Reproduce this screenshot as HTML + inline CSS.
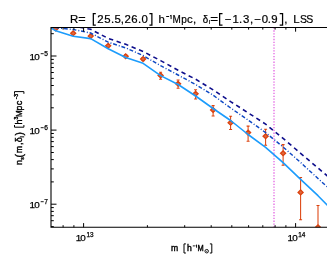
<!DOCTYPE html>
<html><head><meta charset="utf-8"><title>plot</title>
<style>
html,body{margin:0;padding:0;background:#fff;}
body{width:327px;height:256px;overflow:hidden;}
svg{display:block;will-change:transform;}
text{font-family:"Liberation Sans",sans-serif;fill:#000;}
</style></head><body>
<svg width="327" height="256" viewBox="0 0 327 256">

<defs><clipPath id="c"><rect x="51.0" y="27.5" width="281.0" height="199.8"/></clipPath></defs>

<g clip-path="url(#c)" fill="none">
<line x1="274.0" y1="27.5" x2="274.0" y2="227.3" stroke="#e678e6" stroke-width="1.5" stroke-dasharray="1.3 1.54"/>
<path d="M53.2,28.5L55.7,26.1L58.2,28.5L55.7,30.9Z" stroke="#dc420e" stroke-width="1.3" fill="#e0683e"/>
<path d="M70.7,33.2L73.2,30.8L75.7,33.2L73.2,35.6Z" stroke="#dc420e" stroke-width="1.3" fill="#e0683e"/>
<path d="M88.2,36.1L90.7,33.7L93.2,36.1L90.7,38.5Z" stroke="#dc420e" stroke-width="1.3" fill="#e0683e"/>
<path d="M105.7,45.8L108.2,43.4L110.7,45.8L108.2,48.2Z" stroke="#dc420e" stroke-width="1.3" fill="#e0683e"/>
<path d="M125.7,54.8V57.6M124.2,54.8h3M124.2,57.6h3" stroke="#dc420e" stroke-width="1.05"/>
<path d="M123.2,56.2L125.7,53.8L128.2,56.2L125.7,58.6Z" stroke="#dc420e" stroke-width="1.3" fill="#e0683e"/>
<path d="M143.1,57.4V60.6M141.6,57.4h3M141.6,60.6h3" stroke="#dc420e" stroke-width="1.05"/>
<path d="M140.6,59.0L143.1,56.6L145.6,59.0L143.1,61.4Z" stroke="#dc420e" stroke-width="1.3" fill="#e0683e"/>
<path d="M160.6,72.2V79.3M159.1,72.2h3M159.1,79.3h3" stroke="#dc420e" stroke-width="1.05"/>
<path d="M158.1,75.4L160.6,73.0L163.1,75.4L160.6,77.8Z" stroke="#dc420e" stroke-width="1.3" fill="#e0683e"/>
<path d="M178.1,80.0V88.3M176.6,80.0h3M176.6,88.3h3" stroke="#dc420e" stroke-width="1.05"/>
<path d="M175.6,83.8L178.1,81.4L180.6,83.8L178.1,86.2Z" stroke="#dc420e" stroke-width="1.3" fill="#e0683e"/>
<path d="M195.6,89.8V99.0M194.1,89.8h3M194.1,99.0h3" stroke="#dc420e" stroke-width="1.05"/>
<path d="M193.1,93.8L195.6,91.4L198.1,93.8L195.6,96.2Z" stroke="#dc420e" stroke-width="1.3" fill="#e0683e"/>
<path d="M213.1,105.6V116.0M211.6,105.6h3M211.6,116.0h3" stroke="#dc420e" stroke-width="1.05"/>
<path d="M210.6,110.0L213.1,107.6L215.6,110.0L213.1,112.4Z" stroke="#dc420e" stroke-width="1.3" fill="#e0683e"/>
<path d="M230.6,116.2V129.4M229.1,116.2h3M229.1,129.4h3" stroke="#dc420e" stroke-width="1.05"/>
<path d="M228.1,122.7L230.6,120.3L233.1,122.7L230.6,125.1Z" stroke="#dc420e" stroke-width="1.3" fill="#e0683e"/>
<path d="M248.1,126.1V141.2M246.6,126.1h3M246.6,141.2h3" stroke="#dc420e" stroke-width="1.05"/>
<path d="M245.6,132.6L248.1,130.2L250.6,132.6L248.1,135.0Z" stroke="#dc420e" stroke-width="1.3" fill="#e0683e"/>
<path d="M265.6,129.3V145.2M264.1,129.3h3M264.1,145.2h3" stroke="#dc420e" stroke-width="1.05"/>
<path d="M263.1,136.2L265.6,133.8L268.1,136.2L265.6,138.6Z" stroke="#dc420e" stroke-width="1.3" fill="#e0683e"/>
<path d="M283.1,144.6V165.3M281.6,144.6h3M281.6,165.3h3" stroke="#dc420e" stroke-width="1.05"/>
<path d="M280.6,153.2L283.1,150.8L285.6,153.2L283.1,155.6Z" stroke="#dc420e" stroke-width="1.3" fill="#e0683e"/>
<path d="M300.6,177.4V219.8M299.1,177.4h3M299.1,219.8h3" stroke="#dc420e" stroke-width="1.05"/>
<path d="M298.1,192.4L300.6,190.0L303.1,192.4L300.6,194.8Z" stroke="#dc420e" stroke-width="1.3" fill="#e0683e"/>
<path d="M318.0,205.4V227.3M316.5,205.4h3M316.5,227.3h3" stroke="#dc420e" stroke-width="1.05"/>
<path d="M315.5,227.3L318.0,224.9L320.5,227.3L318.0,229.7Z" stroke="#dc420e" stroke-width="1.3" fill="#e0683e"/>
<polyline points="55.7,24.0 73.2,26.2 90.7,29.3 108.2,38.4 125.7,44.3 143.1,51.5 160.6,60.6 178.1,70.3 195.6,79.2 213.1,89.8 230.6,101.6 248.1,112.8 265.6,124.1 283.1,138.4 300.6,153.3 318.0,168.0 335.5,182.8" stroke="#0e0e8c" stroke-width="1.6" stroke-dasharray="4.4 3.6"/>
<polyline points="38.0,25.0 55.7,27.6 73.2,29.5 90.7,33.0 108.2,42.2 125.7,47.9 143.1,55.5 160.6,65.7 178.1,75.0 195.6,84.5 213.1,95.2 230.6,108.0 248.1,120.0 265.6,132.6 283.1,147.0 300.6,162.5 318.0,178.5 335.5,194.5" stroke="#0e48c4" stroke-width="1.45" stroke-dasharray="3.9 2.0 1.0 1.8"/>
<polyline points="50.5,27.4 55.7,30.8 73.2,36.3 90.7,38.6 108.2,48.7 125.7,57.5 143.1,63.3 160.6,75.6 178.1,84.5 195.6,96.0 213.1,108.5 230.6,120.5 248.1,134.5 265.6,147.3 283.1,162.6 300.6,179.3 318.0,195.7 335.5,213.6" stroke="#1c9cfc" stroke-width="1.6" stroke-linejoin="round"/>
</g>
<path d="M327,27.5H51.0V227.3H327" fill="none" stroke="#000" stroke-width="1.1"/>
<path d="M63.1,227.3v-2.1M63.1,27.5v2.1M73.9,227.3v-2.1M73.9,27.5v2.1M83.6,227.3v-4.2M83.6,27.5v4.2M147.4,227.3v-2.1M147.4,27.5v2.1M184.7,227.3v-2.1M184.7,27.5v2.1M211.2,227.3v-2.1M211.2,27.5v2.1M231.8,227.3v-2.1M231.8,27.5v2.1M248.6,227.3v-2.1M248.6,27.5v2.1M262.8,227.3v-2.1M262.8,27.5v2.1M275.1,227.3v-2.1M275.1,27.5v2.1M285.9,227.3v-2.1M285.9,27.5v2.1M295.6,227.3v-4.2M295.6,27.5v4.2M51.0,226.6h2.8M51.0,220.7h2.8M51.0,215.7h2.8M51.0,211.4h2.8M51.0,207.6h2.8M51.0,204.2h5.5M51.0,181.9h2.8M51.0,168.9h2.8M51.0,159.6h2.8M51.0,152.5h2.8M51.0,146.6h2.8M51.0,141.6h2.8M51.0,137.3h2.8M51.0,133.5h2.8M51.0,130.1h5.5M51.0,107.8h2.8M51.0,94.8h2.8M51.0,85.5h2.8M51.0,78.4h2.8M51.0,72.5h2.8M51.0,67.5h2.8M51.0,63.2h2.8M51.0,59.4h2.8M51.0,56.0h5.5M51.0,33.7h2.8" fill="none" stroke="#000" stroke-width="1"/>
<text x="78.50" y="240.60" font-size="9.9" text-anchor="middle" stroke="#000" stroke-width="0.25">1</text>
<text x="83.10" y="240.60" font-size="9.9" text-anchor="middle" stroke="#000" stroke-width="0.25">0</text>
<text x="88.20" y="236.70" font-size="6.4" text-anchor="middle" stroke="#000" stroke-width="0.25">1</text>
<text x="91.70" y="236.70" font-size="6.4" text-anchor="middle" stroke="#000" stroke-width="0.25">3</text>
<text x="290.30" y="240.60" font-size="9.9" text-anchor="middle" stroke="#000" stroke-width="0.25">1</text>
<text x="294.90" y="240.60" font-size="9.9" text-anchor="middle" stroke="#000" stroke-width="0.25">0</text>
<text x="300.00" y="236.70" font-size="6.4" text-anchor="middle" stroke="#000" stroke-width="0.25">1</text>
<text x="303.50" y="236.70" font-size="6.4" text-anchor="middle" stroke="#000" stroke-width="0.25">4</text>
<text x="32.30" y="59.60" font-size="9.9" text-anchor="middle" stroke="#000" stroke-width="0.25">1</text>
<text x="36.90" y="59.60" font-size="9.9" text-anchor="middle" stroke="#000" stroke-width="0.25">0</text>
<path d="M40.70,53.70h3.0" stroke="#000" stroke-width="0.9" fill="none"/>
<text x="46.20" y="55.80" font-size="6.6" text-anchor="middle" stroke="#000" stroke-width="0.25">5</text>
<text x="32.30" y="133.60" font-size="9.9" text-anchor="middle" stroke="#000" stroke-width="0.25">1</text>
<text x="36.90" y="133.60" font-size="9.9" text-anchor="middle" stroke="#000" stroke-width="0.25">0</text>
<path d="M40.70,127.70h3.0" stroke="#000" stroke-width="0.9" fill="none"/>
<text x="46.20" y="129.80" font-size="6.6" text-anchor="middle" stroke="#000" stroke-width="0.25">6</text>
<text x="32.30" y="207.60" font-size="9.9" text-anchor="middle" stroke="#000" stroke-width="0.25">1</text>
<text x="36.90" y="207.60" font-size="9.9" text-anchor="middle" stroke="#000" stroke-width="0.25">0</text>
<path d="M40.70,201.70h3.0" stroke="#000" stroke-width="0.9" fill="none"/>
<text x="46.20" y="203.80" font-size="6.6" text-anchor="middle" stroke="#000" stroke-width="0.25">7</text>
<text x="74.0" y="22.6" font-size="11.4" text-anchor="middle" stroke="#000" stroke-width="0.22">R</text>
<text x="81.85" y="22.6" font-size="11.4" text-anchor="middle" stroke="#000" stroke-width="0.22" textLength="7.4" lengthAdjust="spacingAndGlyphs">=</text>
<path d="M95.8,13.6H93.325V25.0H95.8" fill="none" stroke="#000" stroke-width="1.25"/>
<text x="100.45" y="22.6" font-size="11.4" text-anchor="middle" stroke="#000" stroke-width="0.22">2</text>
<text x="107.3" y="22.6" font-size="11.4" text-anchor="middle" stroke="#000" stroke-width="0.22">5</text>
<text x="112.5" y="22.6" font-size="11.4" text-anchor="middle" stroke="#000" stroke-width="0.22">.</text>
<text x="117.75" y="22.6" font-size="11.4" text-anchor="middle" stroke="#000" stroke-width="0.22">5</text>
<text x="122.4" y="22.6" font-size="11.4" text-anchor="middle" stroke="#000" stroke-width="0.22">,</text>
<text x="127.65" y="22.6" font-size="11.4" text-anchor="middle" stroke="#000" stroke-width="0.22">2</text>
<text x="134.35" y="22.6" font-size="11.4" text-anchor="middle" stroke="#000" stroke-width="0.22">6</text>
<text x="139.6" y="22.6" font-size="11.4" text-anchor="middle" stroke="#000" stroke-width="0.22">.</text>
<text x="144.75" y="22.6" font-size="11.4" text-anchor="middle" stroke="#000" stroke-width="0.22">0</text>
<path d="M149.4,13.6H151.875V25.0H149.4" fill="none" stroke="#000" stroke-width="1.25"/>
<text x="161.75" y="22.6" font-size="11.4" text-anchor="middle" stroke="#000" stroke-width="0.22">h</text>
<path d="M166.2,16.5h2.8M171.1,15.1v4.0M171.1,15.3l-1.2,0.9" stroke="#000" stroke-width="1.0" fill="none"/>
<text x="176.55" y="22.6" font-size="11.4" text-anchor="middle" stroke="#000" stroke-width="0.22" textLength="8.3" lengthAdjust="spacingAndGlyphs">M</text>
<text x="183.95" y="22.6" font-size="11.4" text-anchor="middle" stroke="#000" stroke-width="0.22" textLength="5.6" lengthAdjust="spacingAndGlyphs">p</text>
<text x="189.85" y="22.6" font-size="11.4" text-anchor="middle" stroke="#000" stroke-width="0.22">c</text>
<text x="194.6" y="22.6" font-size="11.4" text-anchor="middle" stroke="#000" stroke-width="0.22">,</text>
<text x="205.4" y="22.6" font-size="11.4" text-anchor="middle" stroke="#000" stroke-width="0.22" textLength="5.4" lengthAdjust="spacingAndGlyphs">δ</text>
<text x="209.5" y="24.0" font-size="6" text-anchor="middle" stroke="#000" stroke-width="0.22">l</text>
<text x="214.25" y="22.6" font-size="11.4" text-anchor="middle" stroke="#000" stroke-width="0.22" textLength="7.8" lengthAdjust="spacingAndGlyphs">=</text>
<path d="M222.5,13.6H219.625V25.0H222.5" fill="none" stroke="#000" stroke-width="1.25"/>
<text x="228.1" y="22.6" font-size="11.4" text-anchor="middle" stroke="#000" stroke-width="0.22">−</text>
<text x="235.7" y="22.6" font-size="11.4" text-anchor="middle" stroke="#000" stroke-width="0.22">1</text>
<text x="240.6" y="22.6" font-size="11.4" text-anchor="middle" stroke="#000" stroke-width="0.22">.</text>
<text x="246.2" y="22.6" font-size="11.4" text-anchor="middle" stroke="#000" stroke-width="0.22">3</text>
<text x="251.6" y="22.6" font-size="11.4" text-anchor="middle" stroke="#000" stroke-width="0.22">,</text>
<text x="257.5" y="22.6" font-size="11.4" text-anchor="middle" stroke="#000" stroke-width="0.22">−</text>
<text x="264.9" y="22.6" font-size="11.4" text-anchor="middle" stroke="#000" stroke-width="0.22">0</text>
<text x="269.3" y="22.6" font-size="11.4" text-anchor="middle" stroke="#000" stroke-width="0.22">.</text>
<text x="274.4" y="22.6" font-size="11.4" text-anchor="middle" stroke="#000" stroke-width="0.22">9</text>
<path d="M279.7,13.6H282.575V25.0H279.7" fill="none" stroke="#000" stroke-width="1.25"/>
<text x="285.9" y="22.6" font-size="11.4" text-anchor="middle" stroke="#000" stroke-width="0.22">,</text>
<text x="296.3" y="22.6" font-size="11.4" text-anchor="middle" stroke="#000" stroke-width="0.22">L</text>
<text x="303.6" y="22.6" font-size="11.4" text-anchor="middle" stroke="#000" stroke-width="0.22" textLength="7.0" lengthAdjust="spacingAndGlyphs">S</text>
<text x="309.7" y="22.6" font-size="11.4" text-anchor="middle" stroke="#000" stroke-width="0.22" textLength="7.0" lengthAdjust="spacingAndGlyphs">S</text>
<text x="174.55" y="251.0" font-size="8.6" text-anchor="middle" stroke="#000" stroke-width="0.4">m</text>
<path d="M185.9,243.9H184.0V253.0H185.9" fill="none" stroke="#000" stroke-width="1.0"/>
<text x="189.45" y="251.0" font-size="8.6" text-anchor="middle" stroke="#000" stroke-width="0.4">h</text>
<path d="M192.8,245.9h2.1" stroke="#000" stroke-width="0.9" fill="none"/>
<path d="M196.5,244.8v2.9M196.5,245.0l-0.9,0.7" stroke="#000" stroke-width="0.9" fill="none"/>
<text x="200.55" y="251.0" font-size="8.6" text-anchor="middle" stroke="#000" stroke-width="0.4" textLength="6.2" lengthAdjust="spacingAndGlyphs">M</text>
<circle cx="206.7" cy="251.2" r="1.75" fill="none" stroke="#000" stroke-width="0.9"/><circle cx="206.7" cy="251.2" r="0.55" fill="#000"/>
<path d="M209.9,243.9H211.8V253.0H209.9" fill="none" stroke="#000" stroke-width="1.0"/>
<g transform="translate(22.4,164.6) rotate(-90)">
<text x="2.2" y="0" font-size="9.0" text-anchor="middle" stroke="#000" stroke-width="0.4">n</text>
<text x="6.1" y="1.2" font-size="5.2" text-anchor="middle" stroke="#000" stroke-width="0.4">s</text>
<text x="8.8" y="0.1" font-size="10.0" text-anchor="middle" stroke="#000" stroke-width="0.4">(</text>
<text x="15.1" y="0" font-size="9.0" text-anchor="middle" stroke="#000" stroke-width="0.4" textLength="7.0" lengthAdjust="spacingAndGlyphs">m</text>
<text x="20.9" y="0" font-size="9.0" text-anchor="middle" stroke="#000" stroke-width="0.4">,</text>
<text x="24.9" y="0" font-size="9.0" text-anchor="middle" stroke="#000" stroke-width="0.4" textLength="5.0" lengthAdjust="spacingAndGlyphs">δ</text>
<text x="27.7" y="1.4" font-size="5.2" text-anchor="middle" stroke="#000" stroke-width="0.4">l</text>
<text x="30.7" y="0.1" font-size="10.0" text-anchor="middle" stroke="#000" stroke-width="0.4">)</text>
<path d="M39.6,-7.9H37.4V1.5H39.6" fill="none" stroke="#000" stroke-width="1.0"/>
<text x="42.5" y="0" font-size="9.0" text-anchor="middle" stroke="#000" stroke-width="0.4">h</text>
<text x="46.5" y="-4.1" font-size="5.0" text-anchor="middle" stroke="#000" stroke-width="0.4">3</text>
<text x="51.0" y="0" font-size="9.0" text-anchor="middle" stroke="#000" stroke-width="0.4" textLength="6.6" lengthAdjust="spacingAndGlyphs">M</text>
<text x="56.6" y="0" font-size="9.0" text-anchor="middle" stroke="#000" stroke-width="0.4" textLength="4.8" lengthAdjust="spacingAndGlyphs">p</text>
<text x="61.7" y="0" font-size="9.0" text-anchor="middle" stroke="#000" stroke-width="0.4" textLength="4.6" lengthAdjust="spacingAndGlyphs">c</text>
<path d="M65.4,-5.9h2.0" stroke="#000" stroke-width="0.9" fill="none"/>
<text x="69.2" y="-4.1" font-size="5.0" text-anchor="middle" stroke="#000" stroke-width="0.4">3</text>
<path d="M70.8,-7.9H73.0V1.5H70.8" fill="none" stroke="#000" stroke-width="1.0"/>
</g>
</svg></body></html>
